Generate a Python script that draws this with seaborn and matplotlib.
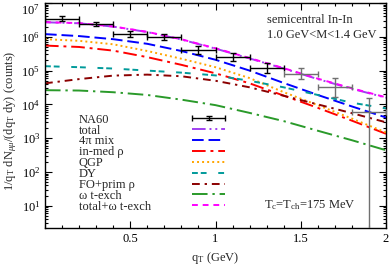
import numpy as np
import pandas as pd
import matplotlib
matplotlib.use("Agg")
import matplotlib.pyplot as plt
import seaborn as sns
from matplotlib.lines import Line2D
from matplotlib.legend_handler import HandlerErrorbar
from matplotlib.ticker import MultipleLocator, LogLocator, NullFormatter

# ---------------- data ----------------
qt = [0.0, 0.2, 0.4, 0.6, 0.8, 1.0, 1.2, 1.4, 1.6, 1.8, 2.0]
total = [2.69e6, 2.51e6, 2.0e6, 1.38e6, 8.3e5, 4.47e5, 2.29e5, 1.15e5, 5.6e4, 2.9e4, 1.58e4]
mix4pi = [1.2e6, 1.05e6, 8.5e5, 6.2e5, 3.8e5, 2.09e5, 1.0e5, 4.3e4, 1.9e4, 8.7e3, 4.1e3]
inmed_rho = [5.5e5, 5.0e5, 3.9e5, 2.5e5, 1.48e5, 8.3e4, 4.2e4, 1.82e4, 7.9e3, 3.3e3, 1.35e3]
qgp = [8.5e5, 7.6e5, 6.0e5, 3.8e5, 2.24e5, 1.26e5, 6.0e4, 2.3e4, 9.5e3, 3.8e3, 1.48e3]
dy = [1.35e5, 1.26e5, 1.15e5, 1.0e5, 8.7e4, 7.2e4, 5.0e4, 3.2e4, 1.9e4, 1.12e4, 7.6e3]
fo_rho = [4.2e4, 5.6e4, 7.1e4, 7.6e4, 6.8e4, 5.0e4, 3.2e4, 1.8e4, 1.0e4, 5.5e3, 2.95e3]
omega_t = [2.63e4, 2.57e4, 2.29e4, 1.9e4, 1.38e4, 9.5e3, 5.6e3, 3.2e3, 1.66e3, 8.7e2, 4.4e2]
total_omega = [2.72e6, 2.54e6, 2.02e6, 1.40e6, 8.44e5, 4.57e5, 2.35e5, 1.18e5, 5.77e4, 2.99e4, 1.62e4]

na60_qt = [0.1, 0.3, 0.5, 0.7, 0.9, 1.1, 1.3, 1.5, 1.7, 1.9]
na60_y = [3.4e6, 2.4e6, 1.2e6, 1.0e6, 4.2e5, 2.6e5, 1.2e5, 8.1e4, 3.2e4, 5.8e3]
na60_ylo = [5.1e5, 3.3e5, 2.0e5, 1.7e5, 1.0e5, 6.3e4, 3.3e4, 2.5e4, 1.5e4, 5.799e3]
na60_yhi = [6.0e5, 3.9e5, 2.4e5, 2.0e5, 1.3e5, 8.3e4, 4.6e4, 3.6e4, 2.8e4, 9.2e3]
na60_xerr = [0.1] * 10
na60_dark = [True, True, True, True, True, True, True, False, False, False]

labels = ["NA60", "total", "4π mix", "in-med ρ", "QGP", "DY", "FO+prim ρ",
          "ω t-exch", "total+ω t-exch"]
xtick_vals = [0.5, 1.0, 1.5, 2.0]
xtick_labels = ["0.5", "1", "1.5", "2"]

# ---------------- style ----------------
sns.set_theme(style="ticks")
plt.rcParams["font.family"] = ["Liberation Serif", "DejaVu Serif"]
plt.rcParams["mathtext.fontset"] = "custom"
plt.rcParams["mathtext.rm"] = "Liberation Serif"
plt.rcParams["mathtext.it"] = "Liberation Serif:italic"
plt.rcParams["mathtext.bf"] = "Liberation Serif:bold"
FS = 9

fig = plt.figure(figsize=(3.9, 2.67), dpi=100)
ax = fig.add_axes([45/390, 1-228/267, 341/390, 225/267])

curves = [
    ("total", total, "#a040f0", (0, (7, 2, 1, 2, 1, 2))),
    ("4π mix", mix4pi, "#0000ff", (0, (6, 2.5))),
    ("in-med ρ", inmed_rho, "#ff0000", (0, (7, 2.5, 1.5, 2.5))),
    ("QGP", qgp, "#ffa500", (0, (1, 1.6))),
    ("DY", dy, "#009a9a", (0, (3, 1.5, 3, 6))),
    ("FO+prim ρ", fo_rho, "#8b0000", (0, (4, 2.5, 1.2, 2.5))),
    ("ω t-exch", omega_t, "#2a9a2a", (0, (8, 2.5, 1.2, 2.5))),
    ("total+ω t-exch", total_omega, "#ff00ff", (0, (3, 2.5))),
]

handles = []
for name, vals, col, ls in curves:
    df = pd.DataFrame({"qt": qt, "v": vals})
    sns.lineplot(data=df, x="qt", y="v", ax=ax, color=col, lw=1.4,
                 linestyle=ls, legend=False)
    handles.append(Line2D([], [], color=col, lw=1.4, linestyle=ls))

# NA60 data
containers = []
for i in range(len(na60_qt)):
    col = "black" if na60_dark[i] else "#707070"
    c = ax.errorbar(na60_qt[i], na60_y[i], xerr=na60_xerr[i],
                    yerr=[[na60_ylo[i]], [na60_yhi[i]]], fmt="none",
                    ecolor=col, elinewidth=1.0, capsize=2, capthick=1.0, zorder=5)
    containers.append(c)
handles = [containers[0]] + handles

ax.set_yscale("log")
ax.set_xlim(0, 2)
ax.set_ylim(2.2, 1e7)
ax.set_xticks(xtick_vals)
ax.set_xticklabels(xtick_labels)
ax.xaxis.set_minor_locator(MultipleLocator(0.1))
ax.yaxis.set_major_locator(LogLocator(base=10, numticks=20))
ax.yaxis.set_minor_locator(LogLocator(base=10, subs=np.arange(2, 10), numticks=50))
ax.yaxis.set_minor_formatter(NullFormatter())
ax.tick_params(which="both", direction="in", top=True, right=True,
               labelsize=FS, width=0.8, colors="black")
ax.tick_params(which="major", length=5)
ax.tick_params(which="minor", length=2.5)
for s in ax.spines.values():
    s.set_linewidth(1.0)
    s.set_color("black")

ax.set_xlabel(r"q$_\mathrm{T}$ (GeV)", fontsize=FS, labelpad=4)
ylab = ax.set_ylabel(r"1/q$_\mathrm{T}$ dN$_{\mu\mu}$/(dq$_\mathrm{T}$ dy) (counts)",
                     fontsize=FS)
ax.yaxis.set_label_coords(-0.076, 0.476)

ax.text(0.651, 0.924, "semicentral In-In", transform=ax.transAxes,
        fontsize=FS, va="center", ha="left")
ax.text(0.651, 0.858, "1.0 GeV<M<1.4 GeV", transform=ax.transAxes,
        fontsize=FS, va="center", ha="left")
ax.text(0.642, 0.102, r"T$_\mathrm{c}$=T$_\mathrm{ch}$=175 MeV",
        transform=ax.transAxes, fontsize=FS, va="center", ha="left")

# legend: texts (left aligned) and samples (separate column)
SP = -0.09
blank = [Line2D([], [], color="none") for _ in labels]
leg1 = ax.legend(blank, labels, loc="upper left", bbox_to_anchor=(0.0997, 0.508),
                 frameon=False, fontsize=FS, handlelength=0, handletextpad=0,
                 borderpad=0, borderaxespad=0, labelspacing=SP)
ax.add_artist(leg1)
leg2 = ax.legend(handles, [""] * len(labels), loc="upper left",
                 bbox_to_anchor=(0.431, 0.508),
                 frameon=False, fontsize=FS, handlelength=2.65, handletextpad=0,
                 borderpad=0, borderaxespad=0, labelspacing=SP,
                 handler_map={type(containers[0]): HandlerErrorbar(xerr_size=1.3, yerr_size=0.15)})

fig.canvas.draw()
# scale y label to the reference's length (~147 px)
h = ylab.get_window_extent().height
if h > 0:
    ylab.set_fontsize(FS * min(1.0, 147.0 / h))
for lbl in ax.get_yticklabels():
    if "{7}" in lbl.get_text():
        lbl.set_verticalalignment("top")

fig.savefig("out.png", dpi=100)
